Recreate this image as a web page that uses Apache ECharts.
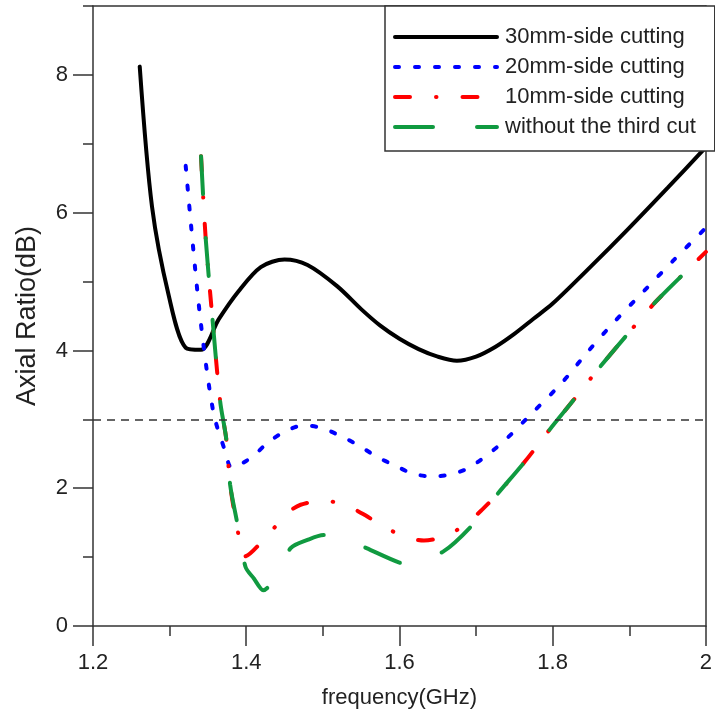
<!DOCTYPE html>
<html>
<head>
<meta charset="utf-8">
<script src="https://cdn.jsdelivr.net/npm/echarts@6/dist/echarts.min.js"></script>
<style>
  html, body { margin: 0; padding: 0; background: #fff; }
  #chart { width: 715px; height: 724px; }
</style>
</head>
<body>
<div id="chart"></div>
<script>
const seriesNames = ["30mm-side cutting", "20mm-side cutting", "10mm-side cutting", "without the third cut"];

const freq30 = [1.261, 1.277, 1.299, 1.321, 1.341, 1.364, 1.390, 1.419, 1.450, 1.480, 1.519, 1.550, 1.575, 1.600, 1.625, 1.650, 1.675, 1.700, 1.725, 1.750, 1.775, 1.800, 1.850, 1.900, 1.950, 2.0];
const ar30 = [8.12, 6.09, 4.79, 4.04, 4.01, 4.45, 4.86, 5.21, 5.32, 5.24, 4.93, 4.60, 4.36, 4.17, 4.02, 3.91, 3.85, 3.91, 4.05, 4.24, 4.46, 4.68, 5.22, 5.78, 6.36, 6.95];

const freq20 = [1.321, 1.339, 1.357, 1.373, 1.381, 1.406, 1.428, 1.450, 1.474, 1.497, 1.523, 1.547, 1.570, 1.594, 1.618, 1.644, 1.670, 1.693, 1.734, 1.774, 1.812, 1.845, 1.880, 1.919, 1.957, 2.0];
const ar20 = [6.68, 4.57, 3.11, 2.52, 2.30, 2.44, 2.66, 2.82, 2.91, 2.88, 2.76, 2.62, 2.46, 2.33, 2.21, 2.17, 2.21, 2.31, 2.66, 3.10, 3.53, 3.97, 4.41, 4.86, 5.30, 5.78];

const freq10 = [1.341, 1.347, 1.356, 1.366, 1.374, 1.379, 1.388, 1.398, 1.432, 1.454, 1.471, 1.502, 1.534, 1.555, 1.581, 1.612, 1.632, 1.663, 1.690, 1.708, 1.729, 1.764, 1.796, 1.828, 1.861, 1.895, 1.934, 1.968, 2.0];
const ar10 = [6.82, 5.64, 4.45, 3.26, 2.71, 2.05, 1.45, 1.01, 1.37, 1.64, 1.76, 1.82, 1.73, 1.61, 1.43, 1.28, 1.24, 1.32, 1.51, 1.69, 1.93, 2.39, 2.85, 3.29, 3.75, 4.20, 4.70, 5.08, 5.43];

const freqNone = [1.341, 1.347, 1.356, 1.366, 1.374, 1.379, 1.388, 1.399, 1.410, 1.422, 1.458, 1.480, 1.502, 1.520, 1.557, 1.600, 1.615, 1.657, 1.693, 1.729, 1.764, 1.796, 1.828, 1.861, 1.895, 1.934, 1.968, 2.0];
const arNone = [6.82, 5.64, 4.45, 3.26, 2.71, 2.05, 1.51, 0.86, 0.69, 0.52, 1.13, 1.25, 1.32, 1.31, 1.13, 0.92, 0.90, 1.08, 1.44, 1.93, 2.39, 2.85, 3.29, 3.75, 4.20, 4.70, 5.08, 5.43];

const majorY = [0, 2, 4, 6, 8];
const threshold = 3;

const zip = (xs, ys) => xs.map((x, i) => [x, ys[i]]);

const font = "Liberation Sans, Arial, sans-serif";
const axisColor = "#333";
const textColor = "#222";

const chart = echarts.init(document.getElementById("chart"));

const lineSeries = (name, xs, ys, color, type, width) => ({
  name,
  type: "line",
  data: zip(xs, ys),
  symbol: "none",
  smooth: 0.3,
  lineStyle: { color, width, type, cap: "round" },
  itemStyle: { color },
  z: 3
});

chart.setOption({
  animation: false,
  grid: { left: 93, right: 2, top: 6, bottom: 98 },
  legend: {
    data: seriesNames,
    orient: "vertical",
    left: 385,
    top: 6,
    padding: [20, 19, 13, 8],
    itemWidth: 102,
    itemHeight: 14,
    itemGap: 8,
    backgroundColor: "#fff",
    borderColor: axisColor,
    borderWidth: 1.5,
    borderRadius: 0,
    itemStyle: { opacity: 0 },
    lineStyle: { width: 4 },
    textStyle: { fontFamily: font, fontSize: 22, color: textColor, lineHeight: 22, padding: [0, 0, 0, 3] },
    z: 10
  },
  xAxis: [
    {
      type: "value",
      min: 1.2,
      max: 2.0,
      interval: 0.2,
      name: "frequency(GHz)",
      nameLocation: "middle",
      nameGap: 61,
      nameTextStyle: { fontFamily: font, fontSize: 22, color: textColor },
      axisLine: { onZero: false, lineStyle: { color: axisColor, width: 1.5 } },
      axisTick: { show: true, length: 20, lineStyle: { color: axisColor, width: 1.5 } },
      minorTick: { show: true, splitNumber: 2, length: 10, lineStyle: { color: axisColor, width: 1.5 } },
      axisLabel: { margin: 26, fontFamily: font, fontSize: 22, color: textColor },
      splitLine: { show: false }
    },
    {
      type: "value",
      position: "top",
      min: 1.2,
      max: 2.0,
      axisLine: { show: true, onZero: false, lineStyle: { color: axisColor, width: 1.5 } },
      axisTick: { show: false },
      axisLabel: { show: false },
      splitLine: { show: false }
    }
  ],
  yAxis: [
    {
      type: "value",
      min: 0,
      max: 9,
      interval: 1,
      name: "Axial Ratio(dB)",
      nameLocation: "middle",
      nameGap: 52,
      nameTextStyle: { fontFamily: font, fontSize: 27, color: textColor },
      axisLine: { onZero: false, lineStyle: { color: axisColor, width: 1.5 } },
      axisTick: { show: true, length: 20, customValues: majorY, lineStyle: { color: axisColor, width: 1.5 } },
      axisLabel: { margin: 25, customValues: majorY, fontFamily: font, fontSize: 22, color: textColor },
      splitLine: { show: false }
    },
    {
      type: "value",
      position: "left",
      min: 0,
      max: 9,
      interval: 1,
      axisLine: { show: false, onZero: false },
      axisTick: { show: true, length: 10, lineStyle: { color: axisColor, width: 1.5 } },
      axisLabel: { show: false },
      splitLine: { show: false }
    },
    {
      type: "value",
      position: "right",
      min: 0,
      max: 9,
      axisLine: { show: true, onZero: false, lineStyle: { color: axisColor, width: 1.5 } },
      axisTick: { show: false },
      axisLabel: { show: false },
      splitLine: { show: false }
    }
  ],
  series: [
    Object.assign(lineSeries(seriesNames[0], freq30, ar30, "#000000", "solid", 4), {
      markLine: {
        silent: true,
        symbol: "none",
        label: { show: false },
        lineStyle: { color: "#333", width: 1.5, type: [8, 6] },
        data: [{ yAxis: threshold }]
      }
    }),
    lineSeries(seriesNames[1], freq20, ar20, "#0000ff", [4, 16], 4),
    lineSeries(seriesNames[2], freq10, ar10, "#ff0000", [15, 26, 0.5, 26], 4),
    lineSeries(seriesNames[3], freqNone, arNone, "#109a40", [38, 44], 4)
  ]
});
</script>
</body>
</html>
